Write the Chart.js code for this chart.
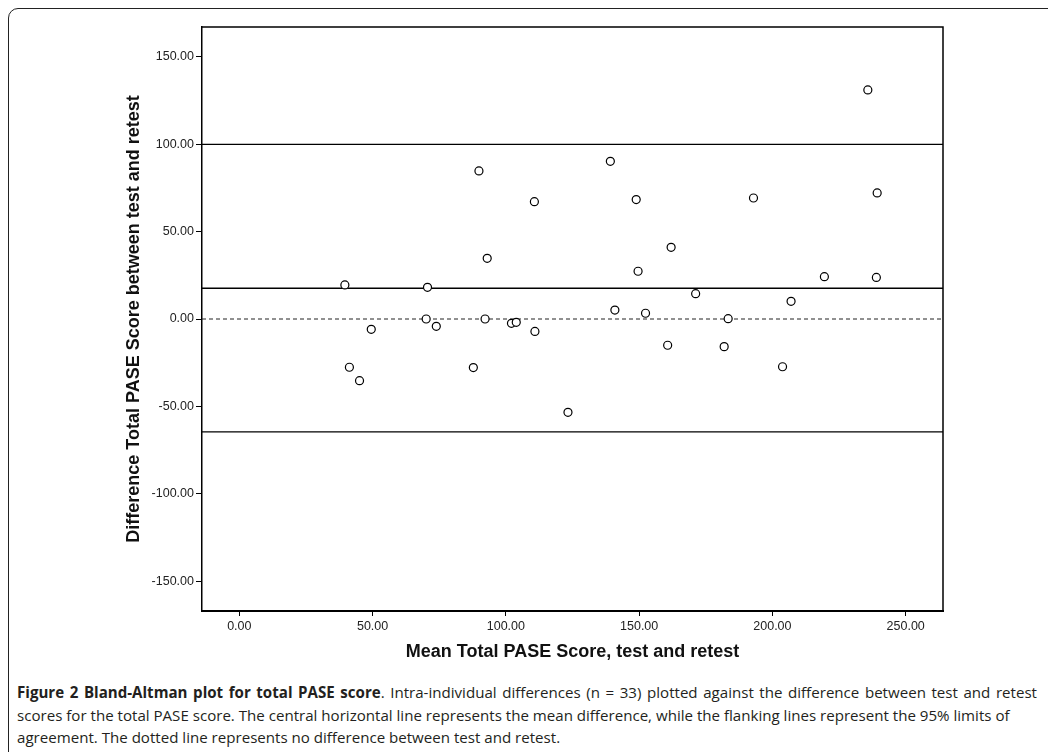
<!DOCTYPE html>
<html>
<head>
<meta charset="utf-8">
<script src="https://cdn.jsdelivr.net/npm/chart.js@4.4.1/dist/chart.umd.min.js"></script>
<style>
  html, body { margin: 0; padding: 0; background: #fff; }
  #page { position: relative; width: 1048px; height: 752px; overflow: hidden; }
  #frame {
    position: absolute; left: 8px; top: 8px; width: 1080px; height: 780px;
    border: 1.5px solid #222; border-radius: 10px; box-sizing: border-box;
  }
  #chartBox { position: absolute; left: 0; top: 0; width: 1048px; height: 675px; }
  #caption {
    position: absolute; left: 17px; top: 681px; width: 1020px;
    font-family: "Open Sans", sans-serif; font-size: 15.1px; line-height: 22.5px;
    color: #231f20;
  }
  #caption div { white-space: nowrap; }
  #caption .just { text-align: justify; text-align-last: justify; white-space: normal; }
  #caption b { font-weight: 700; }
</style>
</head>
<body>
<div id="page">
  <div id="frame"></div>
  <div id="chartBox"><canvas id="chart" width="1048" height="675"></canvas></div>
  <div id="caption">
    <div class="just"><b>Figure 2 Bland-Altman plot for total PASE score</b>. Intra-individual differences (n = 33) plotted against the difference between test and retest</div>
    <div>scores for the total PASE score. The central horizontal line represents the mean difference, while the flanking lines represent the 95% limits of</div>
    <div>agreement. The dotted line represents no difference between test and retest.</div>
  </div>
</div>
<script>
// mean of test and retest (x) and difference (y), one entry per subject
const meanScores = [
  39.6, 41.3, 45.1, 49.5, 70.1, 70.6, 73.9, 87.8, 89.9, 92.2, 93.0,
  102.1, 103.9, 110.7, 110.9, 123.3, 139.2, 140.9, 148.9, 149.6, 152.4,
  160.7, 162.0, 171.2, 181.9, 183.4, 192.9, 203.8, 207.0, 219.5, 235.8,
  239.0, 239.3
];
const diffScores = [
  19.5, -27.6, -35.3, -5.9, 0.0, 18.1, -4.2, -27.8, 84.7, 0.0, 34.7,
  -2.5, -1.9, 67.1, -7.1, -53.4, 90.2, 5.1, 68.3, 27.3, 3.3,
  -15.0, 41.0, 14.5, -15.8, 0.2, 69.2, -27.3, 10.1, 24.2, 131.0,
  23.8, 72.1
];

// reference lines
const meanDiff = 17.6;
const upperLimit = 99.9;
const lowerLimit = -64.6;
const noDiff = 0;

// axis ranges
const xRange = [-14, 264];
const yRange = [-167, 167];

const hLine = (y) => [{ x: xRange[0], y }, { x: xRange[1], y }];

const tickFont = { family: '"Liberation Sans", Arial, sans-serif', size: 12.5 };
const titleFont = { family: '"Liberation Sans", Arial, sans-serif', size: 18, weight: 'bold' };

// draws the top and right edges of the plot box
const boxPlugin = {
  id: 'box',
  afterDraw(chart) {
    const { ctx, chartArea: a } = chart;
    ctx.save();
    ctx.strokeStyle = '#000';
    ctx.lineWidth = 1.5;
    ctx.beginPath();
    ctx.moveTo(a.left, a.top);
    ctx.lineTo(a.right, a.top);
    ctx.lineTo(a.right, a.bottom);
    ctx.stroke();
    ctx.restore();
  }
};

new Chart(document.getElementById('chart'), {
  type: 'scatter',
  data: {
    datasets: [
      {
        label: 'Subjects',
        data: meanScores.map((x, i) => ({ x, y: diffScores[i] })),
        pointRadius: 4,
        pointBackgroundColor: '#fff',
        pointBorderColor: '#000',
        pointBorderWidth: 1.2
      },
      {
        label: 'Upper limit',
        data: hLine(upperLimit),
        showLine: true, pointRadius: 0, borderColor: '#000', borderWidth: 1.3
      },
      {
        label: 'Mean difference',
        data: hLine(meanDiff),
        showLine: true, pointRadius: 0, borderColor: '#000', borderWidth: 1.3
      },
      {
        label: 'Lower limit',
        data: hLine(lowerLimit),
        showLine: true, pointRadius: 0, borderColor: '#000', borderWidth: 1.3
      },
      {
        label: 'No difference',
        data: hLine(noDiff),
        showLine: true, pointRadius: 0, borderColor: '#222', borderWidth: 1,
        borderDash: [4, 3]
      }
    ]
  },
  options: {
    responsive: false,
    animation: false,
    layout: { padding: { top: 27, right: 105, left: 123, bottom: 12 } },
    plugins: { legend: { display: false }, tooltip: { enabled: false } },
    scales: {
      x: {
        type: 'linear',
        min: xRange[0],
        max: xRange[1],
        afterFit: (s) => { s.height = 52; },
        border: { color: '#000', width: 2 },
        grid: { drawOnChartArea: false, drawTicks: true, tickLength: 5, color: '#000' },
        ticks: {
          stepSize: 50, includeBounds: false, padding: 3,
          color: '#222', font: tickFont, maxRotation: 0,
          callback: (v) => v.toFixed(2)
        },
        title: {
          display: true, text: 'Mean Total PASE Score, test and retest',
          color: '#111', font: titleFont, padding: { top: 0, bottom: 0 }
        }
      },
      y: {
        type: 'linear',
        min: yRange[0],
        max: yRange[1],
        afterFit: (s) => { s.width = 79; },
        border: { color: '#000', width: 1.5 },
        grid: { drawOnChartArea: false, drawTicks: true, tickLength: 6, color: '#000' },
        ticks: {
          stepSize: 50, includeBounds: false, padding: 2,
          color: '#222', font: tickFont,
          callback: (v) => v.toFixed(2)
        },
        title: {
          display: true, text: 'Difference Total PASE Score between test and retest',
          color: '#111', font: titleFont, padding: { top: 0, bottom: 0 }
        }
      }
    }
  },
  plugins: [boxPlugin]
});
</script>
</body>
</html>
